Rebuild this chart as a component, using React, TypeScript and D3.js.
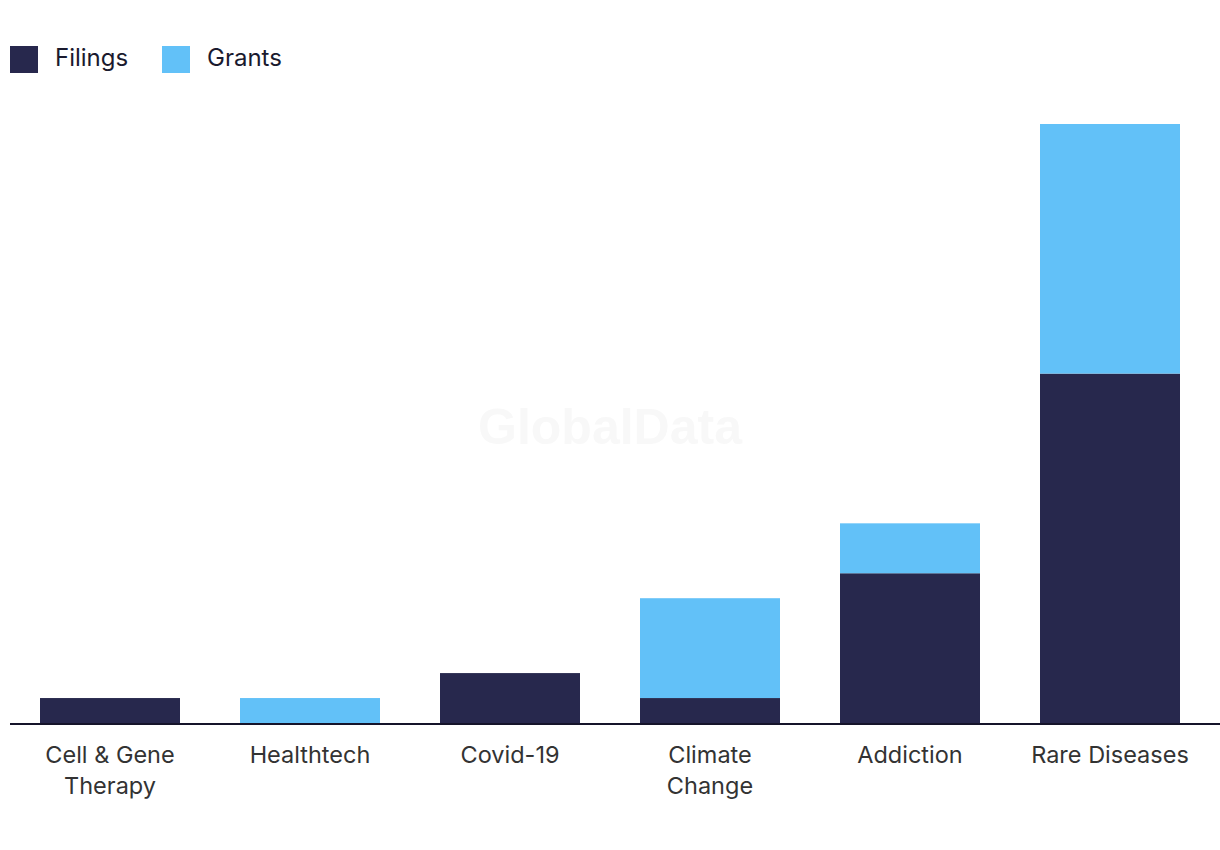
import { useEffect, useRef } from 'react';
import { select, scaleBand, scaleLinear, stack } from 'd3';

const categories = ['Cell & Gene Therapy', 'Healthtech', 'Covid-19', 'Climate Change', 'Addiction', 'Rare Diseases'];
const categoryLines = [['Cell & Gene', 'Therapy'], ['Healthtech'], ['Covid-19'], ['Climate', 'Change'], ['Addiction'], ['Rare Diseases']];
const filings = [1, 0, 2, 1, 6, 14];
const grants = [0, 1, 0, 4, 2, 10];
const seriesNames = ['Filings', 'Grants'];
const seriesColors = ['#27284d', '#62c1f8'];

const FONT = 'Inter, "Noto Sans", sans-serif';

export default function App() {
  const svgRef = useRef<SVGSVGElement>(null);

  useEffect(() => {
    document.body.style.margin = '0';
    document.body.style.overflow = 'hidden';
    if (!svgRef.current) return;
    const svg = select(svgRef.current);
    svg.selectAll('*').remove();

    const width = 1220;
    const height = 850;
    const margin = { top: 124, right: 10, bottom: 127, left: 10 };

    const rows = categories.map((c, i) => ({ category: c, Filings: filings[i], Grants: grants[i] }));
    const layers = stack<any>().keys(seriesNames)(rows);

    const x = scaleBand().domain(categories).range([margin.left, width - margin.right]).paddingInner(0.3).paddingOuter(0.15);
    const y = scaleLinear().domain([0, 24]).range([height - margin.bottom, margin.top]);

    // watermark
    svg.append('text')
      .attr('x', 610).attr('y', 444)
      .attr('text-anchor', 'middle')
      .attr('font-family', 'Arial, "Liberation Sans", sans-serif')
      .attr('font-weight', 700)
      .attr('font-size', 50)
      .attr('fill', '#f8f8f8')
      .text('GlobalData');

    // bars
    layers.forEach((layer, li) => {
      svg.append('g')
        .attr('fill', seriesColors[li])
        .selectAll('rect')
        .data(layer)
        .enter()
        .append('rect')
        .attr('x', (d: any) => x(d.data.category) || 0)
        .attr('width', x.bandwidth())
        .attr('y', (d) => y(d[1]))
        .attr('height', (d) => y(d[0]) - y(d[1]));
    });

    // axis line
    svg.append('line')
      .attr('x1', 10).attr('x2', width)
      .attr('y1', y(0) + 1).attr('y2', y(0) + 1)
      .attr('stroke', '#15142a').attr('stroke-width', 2);

    // category labels
    categories.forEach((c, i) => {
      const cx = (x(c) || 0) + x.bandwidth() / 2;
      const t = svg.append('text')
        .attr('x', cx)
        .attr('y', y(0) + 40)
        .attr('text-anchor', 'middle')
        .attr('font-family', FONT)
        .attr('font-size', 23.5)
        .attr('fill', '#333');
      categoryLines[i].forEach((line, j) => {
        t.append('tspan').attr('x', cx).attr('dy', j === 0 ? 0 : 31).text(line);
      });
    });

    // legend
    const legendX = [10, 162];
    seriesNames.forEach((name, i) => {
      const g = svg.append('g').attr('transform', `translate(${legendX[i]},46)`);
      g.append('rect').attr('width', 28).attr('height', 27).attr('fill', seriesColors[i]);
      g.append('text')
        .attr('x', 45).attr('y', 20)
        .attr('font-family', FONT)
        .attr('font-size', 24)
        .attr('fill', '#1a1a2e')
        .text(name);
    });
  }, []);

  return <svg ref={svgRef} width={1220} height={850} style={{ display: 'block', background: '#fff' }} />;
}
